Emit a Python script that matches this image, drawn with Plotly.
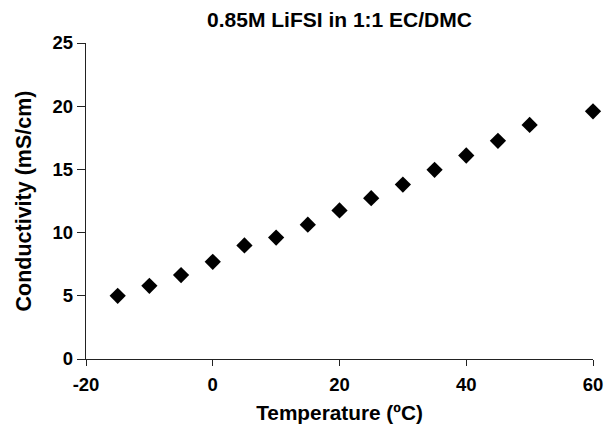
import plotly.graph_objects as go

temperature = [-15, -10, -5, 0, 5, 10, 15, 20, 25, 30, 35, 40, 45, 50, 60]
conductivity = [5.0, 5.79, 6.64, 7.69, 8.98, 9.61, 10.63, 11.75, 12.72, 13.8, 14.97, 16.1, 17.26, 18.52, 19.6]

x_ticks = [-20, 0, 20, 40, 60]
x_tick_labels = ["-20", "0", "20", "40", "60"]
y_ticks = [0, 5, 10, 15, 20, 25]

FONT = "Liberation Sans, Arial, sans-serif"

fig = go.Figure()
fig.add_trace(go.Scatter(
    x=temperature, y=conductivity, mode="markers",
    marker=dict(symbol="diamond", size=12.5, color="black", line=dict(width=0)),
    cliponaxis=False, showlegend=False,
))

fig.update_layout(
    width=606, height=424,
    margin=dict(l=86, r=13, t=43, b=65, autoexpand=False),
    paper_bgcolor="white", plot_bgcolor="white",
    font=dict(family=FONT, color="black"),
    title=dict(text="0.85M LiFSI in 1:1 EC/DMC", x=(86 + 593) / 2 / 606, xanchor="center",
               y=1 - 20 / 424, yanchor="middle", yref="container",
               font=dict(size=21, family=FONT, weight="bold", color="black")),
)
fig.update_xaxes(
    range=[-20, 60], tickvals=x_ticks, ticktext=x_tick_labels, showgrid=False, zeroline=False,
    showline=True, linecolor="#222", linewidth=1.3, automargin=False,
    ticks="outside", ticklen=6, tickwidth=1.3, tickcolor="#222", ticklabelstandoff=3,
    tickfont=dict(size=18.5, family=FONT, weight="bold"),
    title=dict(text="Temperature (ºC)", font=dict(size=20.8, family=FONT, weight="bold"), standoff=12),
)
fig.update_yaxes(
    range=[0, 25], tickvals=y_ticks, showgrid=False, zeroline=False,
    showline=True, linecolor="#222", linewidth=1.3, automargin=False,
    ticks="outside", ticklen=8, tickwidth=1.3, tickcolor="#222",
    tickfont=dict(size=18.5, family=FONT, weight="bold"),
    title=dict(text="Conductivity (mS/cm)", font=dict(size=21.5, family=FONT, weight="bold"), standoff=15),
)

fig.write_html("out.html", config={"displayModeBar": False},
               post_script="document.body.style.margin='0';")
